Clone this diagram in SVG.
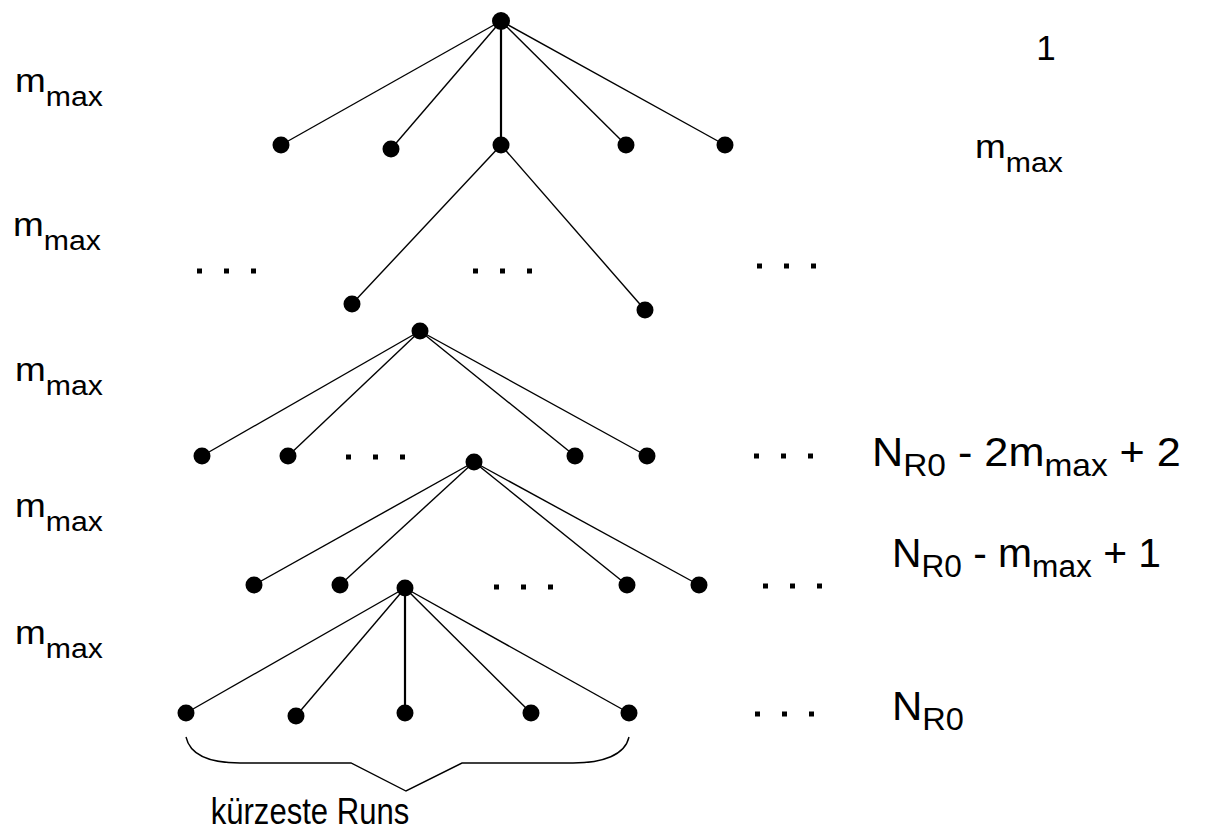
<svg xmlns="http://www.w3.org/2000/svg" width="1212" height="832" viewBox="0 0 1212 832">
<style>
.e{stroke:#000;stroke-width:1.4;fill:none}
.v{stroke:#000;stroke-width:2.2;fill:none}
.n{fill:#000}
.t{font-family:"Liberation Sans",Arial,Helvetica,sans-serif;fill:#000}
.d{fill:#000}
</style>
<defs>
<g id="dots"><rect x="0" y="-2.5" width="5" height="5"/><rect x="27" y="-2.5" width="5" height="5"/><rect x="54" y="-2.5" width="5" height="5"/></g>
</defs>
<g id="connectors">
<line class="e" x1="501" y1="21" x2="281" y2="145"/>
<line class="e" x1="501" y1="21" x2="391" y2="149"/>
<line class="v" x1="501" y1="21" x2="501" y2="145"/>
<line class="e" x1="501" y1="21" x2="626" y2="145"/>
<line class="e" x1="501" y1="21" x2="725" y2="145"/>
<line class="e" x1="501" y1="145" x2="352" y2="304"/>
<line class="e" x1="501" y1="145" x2="645" y2="310"/>
<line class="e" x1="420" y1="331" x2="202" y2="456"/>
<line class="e" x1="420" y1="331" x2="288" y2="456"/>
<line class="e" x1="420" y1="331" x2="575" y2="456"/>
<line class="e" x1="420" y1="331" x2="647" y2="456"/>
<line class="e" x1="474" y1="462" x2="254" y2="585"/>
<line class="e" x1="474" y1="462" x2="340" y2="585"/>
<line class="e" x1="474" y1="462" x2="627" y2="585"/>
<line class="e" x1="474" y1="462" x2="699" y2="585"/>
<line class="e" x1="405" y1="588" x2="186" y2="713"/>
<line class="e" x1="405" y1="588" x2="296" y2="716"/>
<line class="v" x1="405" y1="588" x2="405" y2="713"/>
<line class="e" x1="405" y1="588" x2="531" y2="713"/>
<line class="e" x1="405" y1="588" x2="629" y2="713"/>
</g>
<g id="nodes">
<g id="n-root"><ellipse class="n" cx="501" cy="21" rx="9" ry="9"/></g>
<g id="n1a"><ellipse class="n" cx="281" cy="145" rx="8.5" ry="8.5"/></g>
<g id="n1b"><ellipse class="n" cx="391" cy="149" rx="8.5" ry="8.5"/></g>
<g id="n1c"><ellipse class="n" cx="501" cy="145" rx="8.5" ry="8.5"/></g>
<g id="n1d"><ellipse class="n" cx="626" cy="145" rx="8.5" ry="8.5"/></g>
<g id="n1e"><ellipse class="n" cx="725" cy="145" rx="8.5" ry="8.5"/></g>
<g id="n2a"><ellipse class="n" cx="352" cy="304" rx="8.5" ry="8.5"/></g>
<g id="n2b"><ellipse class="n" cx="645" cy="310" rx="8.5" ry="8.5"/></g>
<g id="n3root"><ellipse class="n" cx="420" cy="331" rx="8.5" ry="8.5"/></g>
<g id="n3a"><ellipse class="n" cx="202" cy="456" rx="8.5" ry="8.5"/></g>
<g id="n3b"><ellipse class="n" cx="288" cy="456" rx="8.5" ry="8.5"/></g>
<g id="n3c"><ellipse class="n" cx="575" cy="456" rx="8.5" ry="8.5"/></g>
<g id="n3d"><ellipse class="n" cx="647" cy="456" rx="8.5" ry="8.5"/></g>
<g id="n4root"><ellipse class="n" cx="474" cy="462" rx="8.5" ry="8.5"/></g>
<g id="n4a"><ellipse class="n" cx="254" cy="585" rx="8.5" ry="8.5"/></g>
<g id="n4b"><ellipse class="n" cx="340" cy="585" rx="8.5" ry="8.5"/></g>
<g id="n4c"><ellipse class="n" cx="627" cy="585" rx="8.5" ry="8.5"/></g>
<g id="n4d"><ellipse class="n" cx="699" cy="585" rx="8.5" ry="8.5"/></g>
<g id="n5root"><ellipse class="n" cx="405" cy="588" rx="8.5" ry="8.5"/></g>
<g id="n5a"><ellipse class="n" cx="186" cy="713" rx="8.5" ry="8.5"/></g>
<g id="n5b"><ellipse class="n" cx="296" cy="716" rx="8.5" ry="8.5"/></g>
<g id="n5c"><ellipse class="n" cx="405" cy="713" rx="8.5" ry="8.5"/></g>
<g id="n5d"><ellipse class="n" cx="531" cy="713" rx="8.5" ry="8.5"/></g>
<g id="n5e"><ellipse class="n" cx="629" cy="713" rx="8.5" ry="8.5"/></g>
</g>
<g id="ellipses-dots" class="d">
<use href="#dots" x="197" y="271"/>
<use href="#dots" x="473" y="271"/>
<use href="#dots" x="757" y="266"/>
<use href="#dots" x="346" y="457"/>
<use href="#dots" x="754" y="456"/>
<use href="#dots" x="494" y="587"/>
<use href="#dots" x="763" y="586"/>
<use href="#dots" x="755" y="714"/>
</g>
<g id="brace"><path class="e" d="M186,737 C190,755 210,763 240,763 L351,763 L406,791 L462,763 L573,763 C603,763 625,755 629,737"/></g>
<g id="labels-left" class="t">
<text transform="translate(15,92) scale(1.12,1)" font-size="33">m<tspan font-size="27" dy="14">max</tspan></text>
<text transform="translate(13,236) scale(1.12,1)" font-size="33">m<tspan font-size="27" dy="14">max</tspan></text>
<text transform="translate(15,381) scale(1.12,1)" font-size="33">m<tspan font-size="27" dy="14">max</tspan></text>
<text transform="translate(15,517) scale(1.12,1)" font-size="33">m<tspan font-size="27" dy="14">max</tspan></text>
<text transform="translate(15,644) scale(1.12,1)" font-size="33">m<tspan font-size="27" dy="14">max</tspan></text>
</g>
<g id="labels-right" class="t">
<text x="1046" y="60" font-size="35" text-anchor="middle">1</text>
<text transform="translate(975,158) scale(1.12,1)" font-size="33">m<tspan font-size="27" dy="14">max</tspan></text>
<text transform="translate(872,466) scale(1.08,1)" font-size="40">N<tspan font-size="31" dy="10">R0</tspan><tspan dy="-10"> - 2m</tspan><tspan font-size="31" dy="10">max</tspan><tspan dy="-10"> + 2</tspan></text>
<text transform="translate(892,567) scale(1.02,1)" font-size="40">N<tspan font-size="31" dy="10">R0</tspan><tspan dy="-10"> - m</tspan><tspan font-size="31" dy="10">max</tspan><tspan dy="-10"> + 1</tspan></text>
<text transform="translate(892,720) scale(1.05,1)" font-size="40">N<tspan font-size="31" dy="10">R0</tspan></text>
</g>
<g id="caption" class="t"><text transform="translate(310,824) scale(0.84,1)" font-size="37" text-anchor="middle">kürzeste Runs</text></g>
</svg>
